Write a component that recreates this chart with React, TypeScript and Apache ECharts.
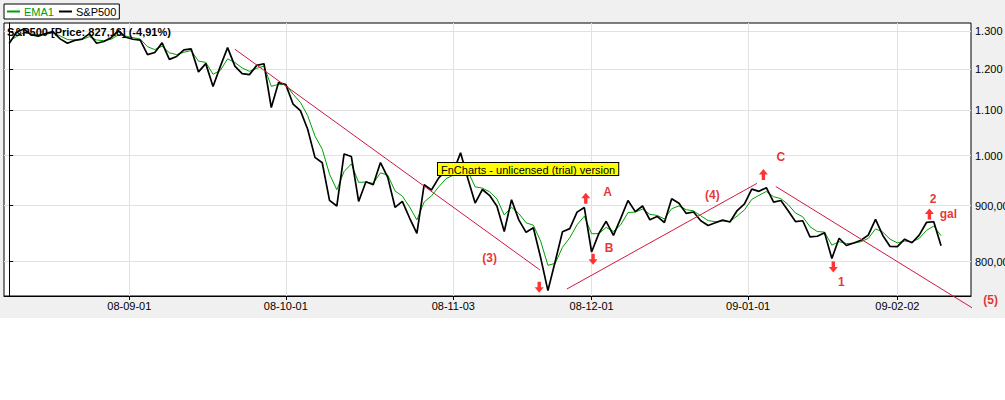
import React, { useEffect, useRef } from 'react';
import * as echarts from 'echarts';

// Trading days (YY-MM-DD)
const dates: string[] = [
  '08-08-07','08-08-08','08-08-11','08-08-12','08-08-13','08-08-14','08-08-15','08-08-18','08-08-19','08-08-20',
  '08-08-21','08-08-22','08-08-25','08-08-26','08-08-27','08-08-28','08-08-29',
  '08-09-02','08-09-03','08-09-04','08-09-05','08-09-08','08-09-09','08-09-10','08-09-11','08-09-12','08-09-15',
  '08-09-16','08-09-17','08-09-18','08-09-19','08-09-22','08-09-23','08-09-24','08-09-25','08-09-26','08-09-29','08-09-30',
  '08-10-01','08-10-02','08-10-03','08-10-06','08-10-07','08-10-08','08-10-09','08-10-10','08-10-13','08-10-14',
  '08-10-15','08-10-16','08-10-17','08-10-20','08-10-21','08-10-22','08-10-23','08-10-24','08-10-27','08-10-28',
  '08-10-29','08-10-30','08-10-31',
  '08-11-03','08-11-04','08-11-05','08-11-06','08-11-07','08-11-10','08-11-11','08-11-12','08-11-13','08-11-14',
  '08-11-17','08-11-18','08-11-19','08-11-20','08-11-21','08-11-24','08-11-25','08-11-26','08-11-28',
  '08-12-01','08-12-02','08-12-03','08-12-04','08-12-05','08-12-08','08-12-09','08-12-10','08-12-11','08-12-12',
  '08-12-15','08-12-16','08-12-17','08-12-18','08-12-19','08-12-22','08-12-23','08-12-24','08-12-26','08-12-29',
  '08-12-30','08-12-31',
  '09-01-02','09-01-05','09-01-06','09-01-07','09-01-08','09-01-09','09-01-12','09-01-13','09-01-14','09-01-15',
  '09-01-16','09-01-20','09-01-21','09-01-22','09-01-23','09-01-26','09-01-27','09-01-28','09-01-29','09-01-30',
  '09-02-02','09-02-03','09-02-04','09-02-05','09-02-06','09-02-09','09-02-10',
];

// S&P500 closes
const closes: number[] = [
  1266.07, 1296.32, 1305.32, 1289.59, 1285.83, 1292.93, 1298.20, 1278.60, 1266.69, 1274.54,
  1277.72, 1292.20, 1266.84, 1271.51, 1281.66, 1300.68, 1282.83,
  1277.58, 1274.98, 1236.83, 1242.31, 1267.79, 1224.51, 1232.04, 1249.05, 1251.70, 1192.70,
  1213.60, 1156.39, 1206.51, 1255.08, 1207.09, 1188.22, 1185.87, 1209.18, 1213.27, 1106.39, 1166.36,
  1161.06, 1114.28, 1099.23, 1056.89, 996.23, 984.94, 909.92, 899.22, 1003.35, 998.01,
  907.84, 946.43, 940.55, 985.40, 955.05, 896.78, 908.11, 876.77, 848.92, 940.51,
  930.09, 954.09, 968.75,
  966.30, 1005.75, 952.77, 904.88, 930.99, 919.21, 898.95, 852.30, 911.29, 873.29,
  850.75, 859.12, 806.58, 752.44, 800.03, 851.81, 857.39, 887.68, 896.24,
  816.21, 848.81, 870.74, 845.22, 876.07, 909.70, 888.67, 899.24, 873.59, 879.73,
  868.57, 913.18, 904.42, 885.28, 887.88, 871.63, 863.16, 868.15, 872.80, 869.42,
  890.64, 903.25,
  931.80, 927.45, 934.70, 906.65, 909.73, 890.35, 870.26, 871.79, 842.62, 843.74,
  850.12, 805.22, 840.24, 827.50, 831.95, 836.57, 845.71, 874.09, 845.14, 825.88,
  825.44, 838.51, 832.23, 845.85, 868.60, 869.89, 827.16,
];

// EMA1 values
const ema1: number[] = [
  1273.0, 1284.5, 1294.9, 1292.3, 1289.0, 1291.0, 1294.6, 1286.6, 1276.7, 1275.6,
  1276.7, 1284.4, 1275.6, 1273.6, 1277.6, 1289.2, 1286.0,
  1281.8, 1278.4, 1257.6, 1250.0, 1258.9, 1241.7, 1236.9, 1243.0, 1247.3, 1220.0,
  1216.8, 1186.6, 1196.6, 1225.8, 1216.5, 1202.4, 1194.1, 1201.7, 1207.5, 1157.0, 1161.7,
  1161.4, 1137.8, 1118.5, 1087.7, 1042.0, 1013.5, 961.7, 930.5, 966.9, 982.5,
  945.2, 945.8, 943.2, 964.3, 959.7, 928.2, 918.2, 897.5, 873.2, 906.9,
  918.5, 936.3, 952.5,
  959.4, 982.6, 967.7, 936.3, 933.7, 926.4, 912.7, 882.5, 896.9, 885.1,
  868.0, 863.5, 835.1, 793.7, 796.9, 824.3, 840.9, 864.3, 880.2,
  848.2, 848.5, 859.6, 852.4, 864.3, 887.0, 887.8, 893.5, 883.6, 881.6,
  875.1, 894.2, 899.3, 892.3, 890.1, 880.8, 872.0, 870.1, 871.5, 870.5,
  880.5, 891.9,
  911.9, 919.7, 927.2, 917.0, 913.3, 901.9, 886.1, 879.0, 860.8, 852.2,
  851.2, 828.2, 834.2, 830.9, 831.5, 834.1, 839.9, 857.0, 851.1, 838.5,
  832.0, 835.3, 833.8, 839.9, 854.3, 862.1, 844.7,
];

// Axis ticks (x in trading-day index; month starts falling on holidays sit between days)
const xTicks: number[] = [16.5, 38, 61, 80, 101.5, 122];
const xTickLabels: string[] = ['08-09-01', '08-10-01', '08-11-03', '08-12-01', '09-01-01', '09-02-02'];
const yTicks: number[] = [800, 900, 1000, 1100, 1200, 1300];
const yTickLabels: string[] = ['800,00', '900,00', '1.000', '1.100', '1.200', '1.300'];

// Trend lines [index, price]
const trend3: number[][] = [[31.0, 1251], [72.9, 786]];
const trend4: number[][] = [[76.6, 755], [102.7, 943]];
const trend5: number[][] = [[105.3, 937], [133.1, 720]];

// Arrows [index, price]
const arrowsUp: number[][] = [[79.2, 914], [103.6, 961], [126.4, 884]];
const arrowsDown: number[][] = [[72.8, 758], [80.2, 804], [113.2, 791]];

// Wave labels
const labelTexts: string[] = ['(3)', 'A', 'B', '(4)', 'C', '1', '2', 'gal', '(5)'];
const labelPos: number[][] = [
  [66.0, 806], [82.2, 926], [82.4, 823], [96.6, 921], [106.0, 996],
  [114.3, 767], [126.9, 913], [129.0, 885], [134.8, 738],
];

const FONT = 'Liberation Sans';
const UP = 'path://M4,0 L8,5 L5.5,5 L5.5,10 L2.5,10 L2.5,5 L0,5 Z';
const DOWN = 'path://M2.5,0 L5.5,0 L5.5,5 L8,5 L4,10 L0,5 L2.5,5 Z';

export default function App() {
  const ref = useRef<HTMLDivElement>(null);
  useEffect(() => {
    const chart = echarts.init(ref.current as HTMLDivElement, null, { renderer: 'svg' });
    const trendSeries = [trend3, trend4, trend5].map((t) => ({
      type: 'line',
      data: t,
      symbol: 'none',
      clip: false,
      silent: true,
      z: 4,
      lineStyle: { color: '#d01840', width: 1 },
    }));
    const option: any = {
      animation: false,
      backgroundColor: '#f0f0f0',
      textStyle: { fontFamily: FONT },
      title: {
        text: 'S&P500 [Price: 827,16] (-4,91%)',
        left: 7,
        top: 26,
        padding: 0,
        textStyle: { fontSize: 11, fontWeight: 'bold', color: '#000', fontFamily: FONT },
      },
      legend: {
        left: 4,
        top: 4,
        padding: [2, 3, 2, 3],
        itemGap: 5,
        itemWidth: 13,
        itemHeight: 2,
        backgroundColor: '#fff',
        borderColor: '#000',
        borderWidth: 1,
        borderRadius: 0,
        selectedMode: false,
        textStyle: { fontSize: 11, fontFamily: FONT, padding: [0, 0, 0, -1] },
        data: [
          { name: 'EMA1', icon: 'rect', textStyle: { color: '#00a000' } },
          { name: 'S&P500', icon: 'rect', textStyle: { color: '#000' } },
        ],
      },
      grid: {
        left: 4,
        top: 23,
        width: 967,
        height: 273,
        outerBoundsMode: 'none',
        containLabel: false,
        show: true,
        backgroundColor: '#fff',
        borderColor: '#000',
        borderWidth: 1,
      },
      xAxis: {
        type: 'value',
        min: -0.714,
        max: 132.115,
        axisLine: { show: true, onZero: false, lineStyle: { color: '#000' } },
        axisTick: { show: true, length: 4, customValues: xTicks, lineStyle: { color: '#000' } },
        axisLabel: {
          customValues: xTicks,
          color: '#000',
          fontSize: 11,
          fontFamily: FONT,
          margin: 4,
          formatter: (v: number) => {
            const k = xTicks.findIndex((t) => Math.abs(t - v) < 0.01);
            return k >= 0 ? xTickLabels[k] : '';
          },
        },
        splitLine: { show: true, lineStyle: { color: '#e2e2e2' } },
      },
      yAxis: {
        type: 'log',
        logBase: 10,
        position: 'right',
        min: 744,
        max: 1322,
        axisLine: { show: true, lineStyle: { color: '#000' } },
        axisTick: { show: true, length: 4, customValues: yTicks, lineStyle: { color: '#000' } },
        axisLabel: {
          customValues: yTicks,
          color: '#000',
          fontSize: 11,
          fontFamily: FONT,
          margin: 4,
          formatter: (v: number) => {
            const k = yTicks.findIndex((t) => Math.abs(t - v) < 0.5);
            return k >= 0 ? yTickLabels[k] : '';
          },
        },
        splitLine: { show: true, lineStyle: { color: '#e2e2e2' } },
      },
      graphic: [
        {
          type: 'text',
          left: 437,
          top: 162,
          z: 100,
          style: {
            text: 'FnCharts - unlicensed (trial) version',
            fill: '#000',
            font: '11px "Liberation Sans"',
            backgroundColor: '#ffff00',
            borderColor: '#000',
            borderWidth: 1,
            padding: [1, 3, 0, 3],
          },
        },
      ],
      series: [
        {
          name: 'EMA1',
          type: 'line',
          data: ema1.map((v, i) => [i, v]),
          symbol: 'none',
          z: 2,
          lineStyle: { color: '#00a000', width: 1 },
          itemStyle: { color: '#00a000' },
        },
        {
          name: 'S&P500',
          type: 'line',
          data: closes.map((v, i) => [i, v]),
          symbol: 'none',
          z: 3,
          lineStyle: { color: '#000', width: 1.7 },
          itemStyle: { color: '#000' },
        },
        ...trendSeries,
        {
          type: 'scatter',
          clip: false,
          silent: true,
          z: 5,
          symbolSize: [9, 11],
          itemStyle: { color: '#ff0000' },
          data: [
            ...arrowsUp.map((p) => ({ value: p, symbol: UP })),
            ...arrowsDown.map((p) => ({ value: p, symbol: DOWN })),
          ],
        },
        {
          type: 'scatter',
          clip: false,
          silent: true,
          z: 5,
          symbol: 'rect',
          symbolSize: 1,
          itemStyle: { color: 'rgba(0,0,0,0)' },
          label: {
            show: true,
            position: 'inside',
            color: '#dd0000',
            fontSize: 12,
            fontWeight: 'bold',
            fontFamily: FONT,
            formatter: (p: any) => labelTexts[p.dataIndex],
          },
          data: labelPos.map((p) => ({ value: p })),
        },
      ],
    };
    chart.setOption(option);
    return () => chart.dispose();
  }, []);
  return (
    <div style={{ position: 'fixed', left: 0, top: 0, width: 1005, height: 400, background: '#fff' }}>
      <div ref={ref} style={{ width: 1005, height: 318 }} />
    </div>
  );
}
